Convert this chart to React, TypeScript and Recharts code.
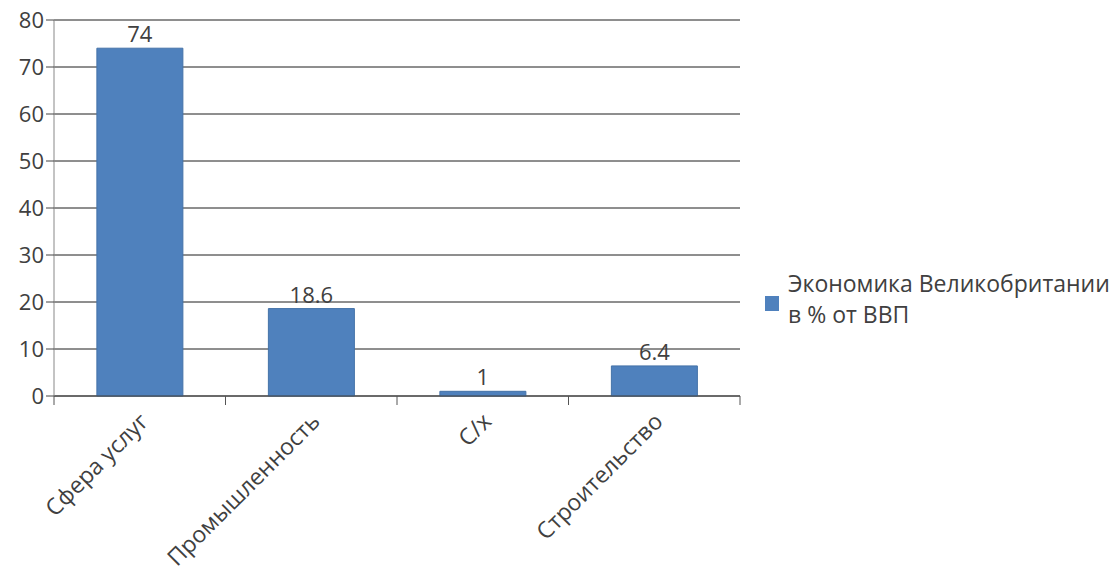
import React from 'react';
import { BarChart, Bar, XAxis, YAxis, CartesianGrid, LabelList, Legend } from 'recharts';

const categories = ['Сфера услуг', 'Промышленность', 'С/х', 'Строительство'];
const shares = [74, 18.6, 1, 6.4];
const yTicks = [0, 10, 20, 30, 40, 50, 60, 70, 80];
const seriesName = 'Экономика Великобритании в % от ВВП';

const data = categories.map((name, i) => ({ name, value: shares[i] }));

const FONT = '"Open Sans", "Noto Sans", sans-serif';
const TEXT = '#404040';
const BAR = '#4f81bd';

const CategoryTick: React.FC<any> = ({ x, y, payload, index, visibleTicksCount }) => {
  const half = payload && payload.offset ? payload.offset : 85.875;
  return (
    <g>
      <line x1={x - half} y1={y - 8} x2={x - half} y2={y + 1} stroke="#555" />
      {index === visibleTicksCount - 1 && (
        <line x1={x + half} y1={y - 8} x2={x + half} y2={y + 1} stroke="#555" />
      )}
      <text
        x={x + 10}
        y={y + 19}
        transform={`rotate(-45, ${x + 10}, ${y + 19})`}
        textAnchor="end"
        fill={TEXT}
        fontSize={23}
        fontFamily={FONT}
      >
        {payload.value}
      </text>
    </g>
  );
};

const LegendBox: React.FC<any> = () => (
  <div style={{ display: 'flex', alignItems: 'center', fontFamily: FONT, fontSize: 23, color: TEXT, lineHeight: '31px', textAlign: 'left' }}>
    <span style={{ width: 14, height: 15, background: BAR, marginRight: 9, display: 'inline-block', flex: 'none', marginTop: 8 }} />
    <span style={{ width: 340, whiteSpace: 'nowrap' }}>
      Экономика Великобритании<br />в % от ВВП
    </span>
  </div>
);

export default function App() {
  return (
    <div style={{ position: 'absolute', left: 0, top: 0, width: 1116, height: 576, background: '#fff' }}>
      <BarChart
        width={1116}
        height={576}
        data={data}
        margin={{ top: 20, right: 376, left: 0, bottom: 0 }}
        barCategoryGap="25%"
      >
        <CartesianGrid vertical={false} stroke="#1e1e1e" />
        <XAxis
          dataKey="name"
          interval={0}
          tickLine={false}
          axisLine={{ stroke: '#444' }}
          tick={<CategoryTick />}
          height={180}
        />
        <YAxis
          domain={[0, 80]}
          ticks={yTicks}
          interval={0}
          width={54}
          tickSize={8}
          tickLine={{ stroke: '#444' }}
          axisLine={{ stroke: '#888' }}
          tick={{ fill: TEXT, fontSize: 22, fontFamily: FONT }}
        />
        <Legend
          layout="horizontal"
          align="center"
          verticalAlign="middle"
          wrapperStyle={{ left: 765, top: 268, width: 351 }}
          content={<LegendBox />}
        />
        <Bar dataKey="value" name={seriesName} fill={BAR} stroke="#4472a8" isAnimationActive={false}>
          <LabelList dataKey="value" position="top" offset={6} fill={TEXT} fontSize={22} fontFamily={FONT} />
        </Bar>
      </BarChart>
    </div>
  );
}
